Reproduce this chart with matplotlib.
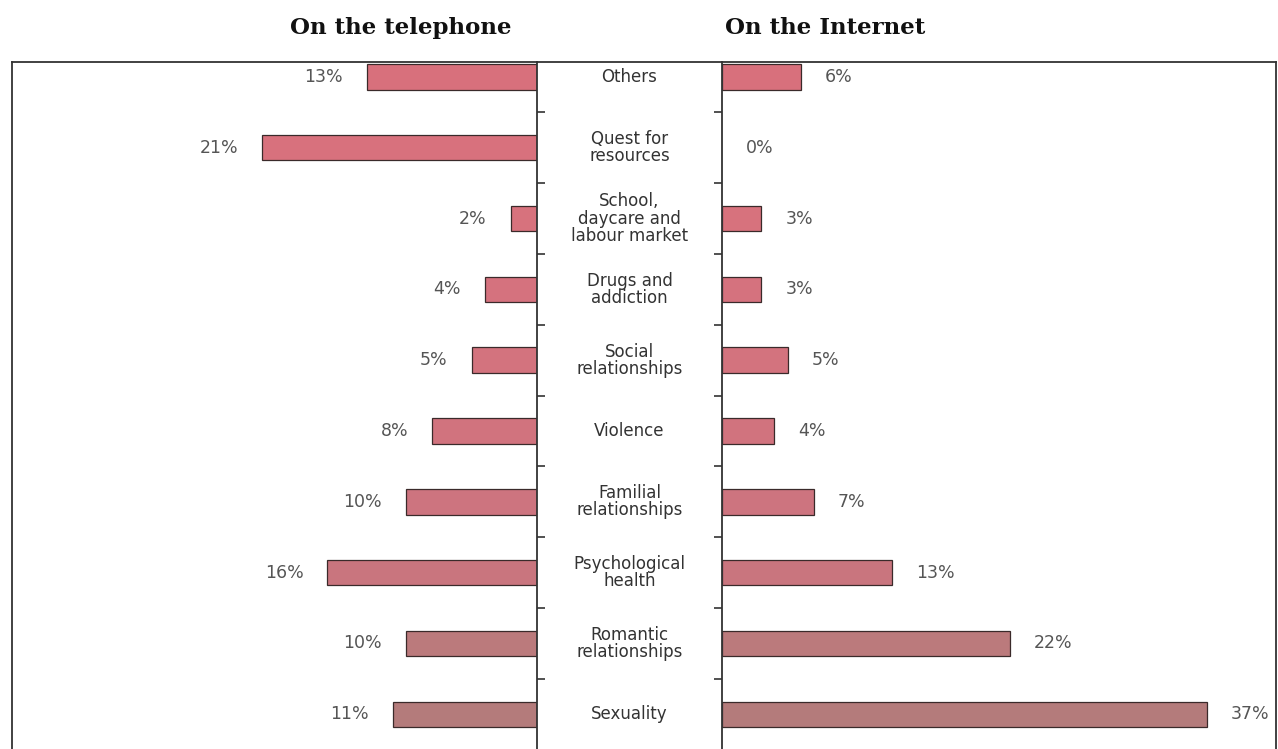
import matplotlib
matplotlib.use("Agg")
import matplotlib.pyplot as plt

categories = ["Others", "Quest for\nresources", "School,\ndaycare and\nlabour market",
              "Drugs and\naddiction", "Social\nrelationships", "Violence",
              "Familial\nrelationships", "Psychological\nhealth", "Romantic\nrelationships",
              "Sexuality"]
telephone = [13, 21, 2, 4, 5, 8, 10, 16, 10, 11]
internet = [6, 0, 3, 3, 5, 4, 7, 13, 22, 37]
titles = ["On the telephone", "On the Internet"]
bar_colors = ["#d8707c", "#d8717d", "#d7727d", "#d5727e", "#d3737e", "#d1737e",
              "#cd747f", "#c9757e", "#bb7a7c", "#b47b7b"]

W, H = 1278, 749
fig = plt.figure(figsize=(W / 100, H / 100), dpi=100)
fig.patch.set_facecolor("white")

top_px, bot_px = 62, 749
y0 = 1 - bot_px / H
hgt = (bot_px - top_px) / H

def fx(px):
    return px / W

axL = fig.add_axes([fx(12), y0, fx(537 - 12), hgt])
axC = fig.add_axes([fx(537), y0, fx(722 - 537), hgt])
axR = fig.add_axes([fx(722), y0, fx(1276 - 722), hgt])

ypos = list(range(len(categories)))
ylim = (9.49, -0.21)
scale = 13.1  # px per percent
for ax in (axL, axC, axR):
    ax.set_ylim(*ylim)
    ax.set_facecolor("none")
    for s in ax.spines.values():
        s.set_color("#333333")
        s.set_linewidth(1.3)
    ax.spines["bottom"].set_visible(False)

axL.set_xlim((537 - 12) / scale, 0)
axR.set_xlim(0, (1276 - 722) / scale)

bh = 0.36
lwL = [0.9 if v > 0 else 0 for v in telephone]
lwR = [0.9 if v > 0 else 0 for v in internet]
axL.barh(ypos, telephone, height=bh, color=bar_colors, edgecolor="#3a2a2a", linewidth=lwL)
axR.barh(ypos, internet, height=bh, color=bar_colors, edgecolor="#3a2a2a", linewidth=lwR)

lab_kw = dict(fontsize=12.5, color="#555555", va="center", family="DejaVu Sans")
for y, v in zip(ypos, telephone):
    axL.annotate(f"{v}%", xy=(v, y), xytext=(-24, 0), textcoords="offset pixels",
                 ha="right", **lab_kw)
for y, v in zip(ypos, internet):
    axR.annotate(f"{v}%", xy=(v, y), xytext=(24, 0), textcoords="offset pixels",
                 ha="left", **lab_kw)

# tick marks between categories on the inner spines
tick_pos = [i + 0.5 for i in range(len(categories) - 1)]
axL.set_xticks([])
axR.set_xticks([])
axL.yaxis.tick_right()
axL.set_yticks(tick_pos)
axL.set_yticklabels([])
axL.tick_params(axis="y", direction="out", length=6, width=1.2, color="#333333")
axR.yaxis.tick_left()
axR.set_yticks(tick_pos)
axR.set_yticklabels([])
axR.tick_params(axis="y", direction="out", length=6, width=1.2, color="#333333")

# center labels
axC.set_xlim(0, 1)
axC.set_xticks([])
axC.set_yticks([])
for s in ("left", "right"):
    axC.spines[s].set_visible(False)
for y, c in zip(ypos, categories):
    axC.text(0.5, y, c, ha="center", va="center", fontsize=12, color="#333333",
             linespacing=0.95, family="DejaVu Sans")

fig.text(fx(401), 1 - 28 / H, titles[0], ha="center", va="center",
         fontsize=16.5, fontweight="bold", family="DejaVu Serif", color="#111111")
fig.text(fx(825), 1 - 28 / H, titles[1], ha="center", va="center",
         fontsize=16.5, fontweight="bold", family="DejaVu Serif", color="#111111")

fig.savefig("out.png", dpi=100, facecolor="white")
